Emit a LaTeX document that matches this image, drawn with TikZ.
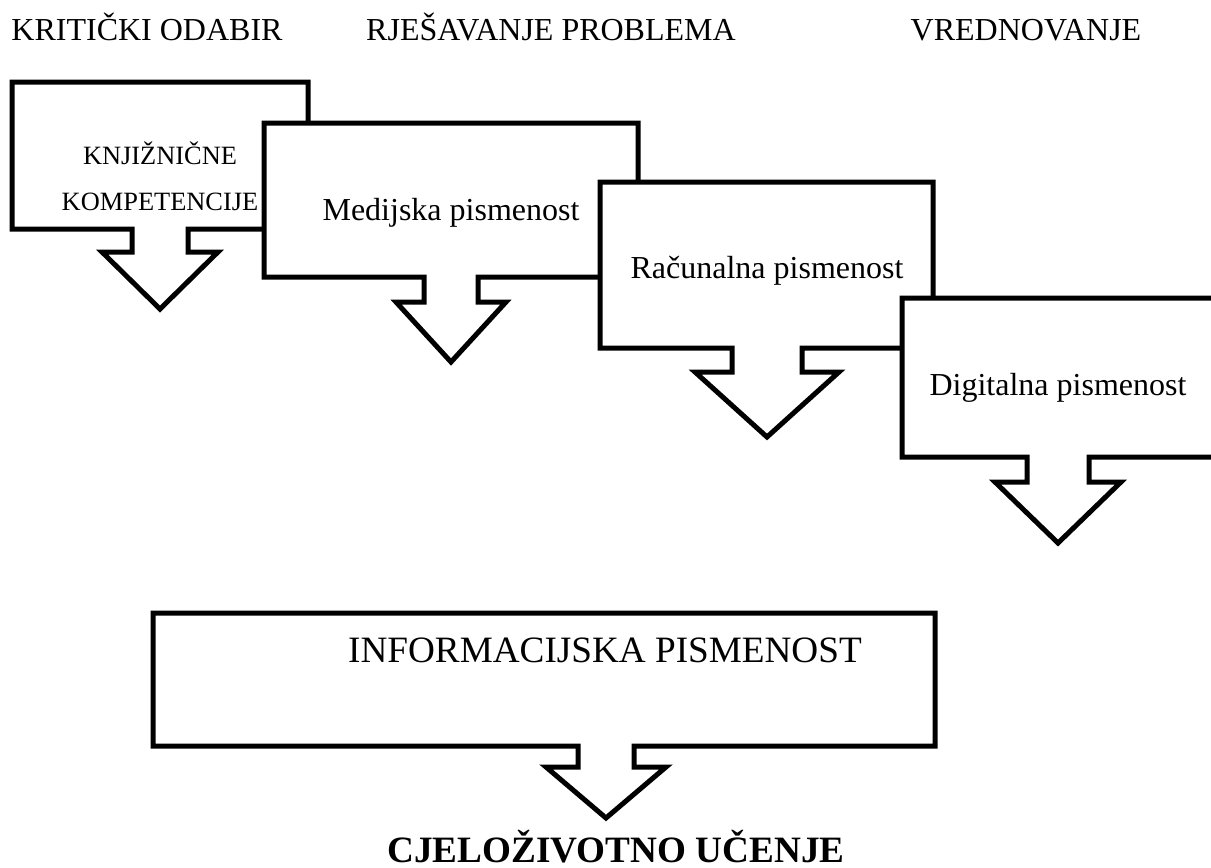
\documentclass[tikz,border=0pt]{standalone}
\usepackage{fontspec}
\setmainfont{Liberation Serif}
\usepackage{tikz}

\newcommand{\oblacic}[9]{%
	\draw[okvir] (#1,#2) -- (#3,#2) -- (#3,#4) -- ({#5+#6},#4) -- ({#5+#6},#7)
	-- ({#5+#8},#7) -- (#5,#9) -- ({#5-#8},#7) -- ({#5-#6},#7) -- ({#5-#6},#4)
	-- (#1,#4) -- cycle;}

\begin{document}
\begin{tikzpicture}[x=0.5pt,y=-0.5pt,
	okvir/.style={draw=black,line width=2.5pt,fill=white,line join=miter},
	tekst/.style={inner sep=0pt,anchor=base,font=\fontsize{16}{19}\selectfont},
	mali/.style={inner sep=0pt,align=center,font=\fontsize{13.2}{23}\selectfont},
	veliki/.style={inner sep=0pt,anchor=base,font=\fontsize{18.6}{22}\selectfont}]
	
	\useasboundingbox (0,0) rectangle (1211,868);
	\clip (0,0) rectangle (1211,868);
	
	\node[tekst] (krit) at (147,40) {KRITIČKI ODABIR};
	\node[tekst] (rjes) at (551,40) {RJEŠAVANJE PROBLEMA};
	\node[tekst] (vred) at (1026,40) {VREDNOVANJE};
	
	\oblacic{12}{82}{308}{229}{160}{28}{252}{58}{309}
	\node[mali,anchor=base] (knj) at (160,210) {KNJIŽNIČNE\\KOMPETENCIJE};
	
	\oblacic{264}{123}{638}{277}{451}{27}{302}{55}{362}
	\node[tekst] (med) at (451,220) {Medijska pismenost};
	
	\oblacic{600}{182}{933}{348}{767}{35}{372}{72}{437}
	\node[tekst] (rac) at (767,278) {Računalna pismenost};
	
	\oblacic{902}{298}{1240}{457}{1058}{31}{482}{63}{543}
	\node[tekst] (dig) at (1058,395) {Digitalna pismenost};
	
	\oblacic{153}{613}{935}{746}{606}{28}{767}{60}{818}
	\node[veliki] (inf) at (605,662) {INFORMACIJSKA PISMENOST};
	
	\node[veliki,font=\fontsize{18.6}{22}\selectfont\bfseries] (cje) at (616,862) {CJELOŽIVOTNO UČENJE};
\end{tikzpicture}
\end{document}
